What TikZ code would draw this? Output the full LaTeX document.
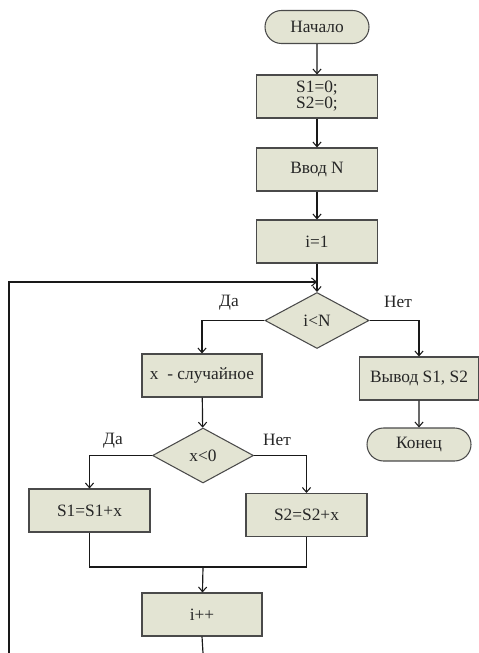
\documentclass[tikz,border=0pt]{standalone}
\usepackage{fontspec}
\setmainfont{Liberation Serif}
\usetikzlibrary{shapes.geometric,shapes.misc,arrows.meta}
\definecolor{boxfill}{HTML}{E3E4D3}
\definecolor{boxline}{HTML}{4A4A4A}
\begin{document}
\begin{tikzpicture}[x=0.03cm,y=-0.03cm,
  font=\fontsize{14.8}{17}\selectfont,
  base/.style={draw=boxline,fill=boxfill,line width=0.9pt,inner sep=0pt,text=black!85},
  proc/.style={base,rectangle,minimum width=121*0.03cm,minimum height=43*0.03cm},
  term/.style={base,rounded rectangle,minimum width=104*0.03cm,minimum height=33*0.03cm},
  dec/.style={base,diamond,aspect=1.9,minimum width=104*0.03cm,minimum height=56*0.03cm},
  conn/.style={line width=1pt,draw=black!90},
  arr/.style={conn,-{Straight Barb[length=4pt,width=7pt,line width=0.9pt]}},
  lbl/.style={text=black!85}
]
\useasboundingbox (0,0) rectangle (478,653);
\node[term] (start) at (317,27) {Начало};
\node[proc] (init) at (317,96.5) {\begin{tabular}{@{}c@{}}S1=0;\\[-3pt]S2=0;\end{tabular}};
\node[proc] (inp) at (317,169.5) {Ввод N};
\node[proc] (i1) at (317,241.5) {i=1};
\node[dec] (cond) at (317,320.5) {i<N};
\node[proc,minimum width=120*0.03cm] (rnd) at (202,375.5) {x\ \ - случайное};
\node[proc,minimum width=119*0.03cm] (out) at (419,378.5) {Вывод S1, S2};
\node[term] (end) at (419,444.5) {Конец};
\node[dec,minimum width=101*0.03cm,minimum height=55*0.03cm] (c2) at (203,455.5) {x<0};
\node[proc] (s1) at (89.5,510.5) {S1=S1+x};
\node[proc] (s2) at (306.5,515) {S2=S2+x};
\node[proc,minimum width=120*0.03cm] (inc) at (202,614.5) {i++};
\coordinate (join) at (317,282);
\coordinate (merge) at (203,567);
\coordinate (bot1) at (203,653);
\coordinate (bot2) at (9,653);
\node[lbl] (da1) at (229,303) {Да};
\node[lbl] (net1) at (398,302) {Нет};
\node[lbl] (da2) at (113,441) {Да};
\node[lbl] (net2) at (277,440) {Нет};
\draw[arr] (start) -- (init);
\draw[arr] (init) -- (inp);
\draw[arr] (inp) -- (i1);
\draw[arr] (i1) -- (cond);
\draw[arr] (cond.west) -| (rnd.north);
\draw[arr] (cond.east) -| (out.north);
\draw[arr] (out) -- (end);
\draw[arr] (rnd) -- (c2);
\draw[arr] (c2.west) -| (s1.north);
\draw[arr] (c2.east) -| (s2.north);
\draw[conn] (s1.south) |- (merge) -| (s2.south);
\draw[arr] (merge) -- (inc);
\draw[conn] (inc.south) -- (bot1);
\draw[arr] (bot2) |- (join);
\end{tikzpicture}
\end{document}
